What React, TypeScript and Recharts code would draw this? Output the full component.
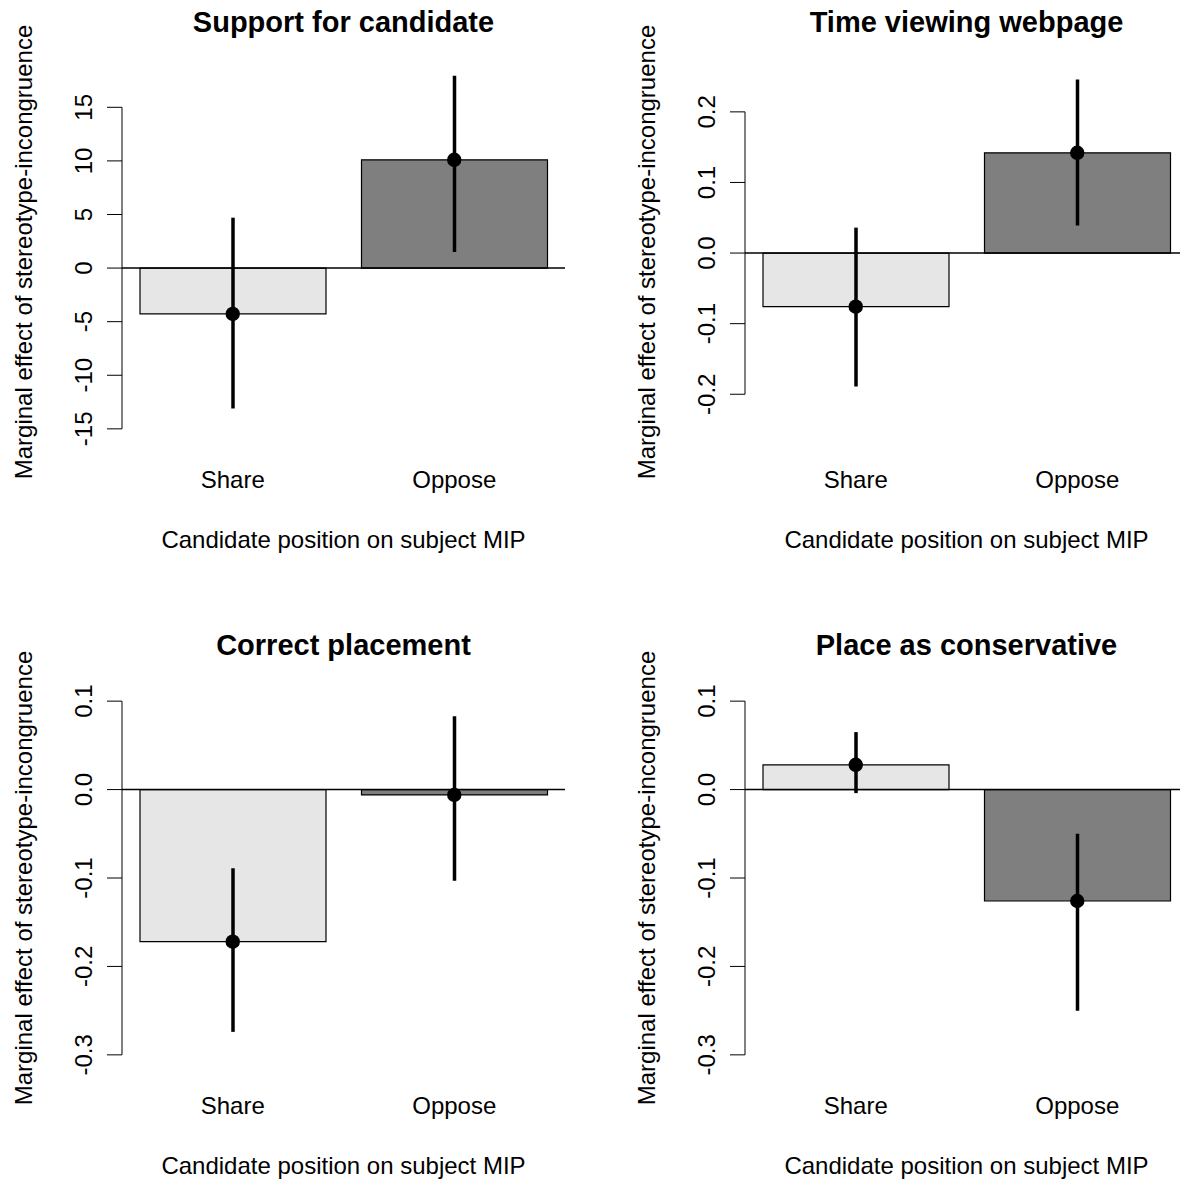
import {
  ComposedChart,
  Bar,
  Cell,
  ErrorBar,
  Scatter,
  XAxis,
  YAxis,
  ReferenceLine,
} from "recharts";

const CATEGORIAS = ["Share", "Oppose"];
const COLORES = ["#E6E6E6", "#7F7F7F"];

const TITULOS = [
  "Support for candidate",
  "Time viewing webpage",
  "Correct placement",
  "Place as conservative",
];

const Y_LABEL = "Marginal effect of stereotype-incongruence";
const X_LABEL = "Candidate position on subject MIP";

// estimates and 95% intervals, Share / Oppose
const SUPPORT_EST = [-4.27, 10.1];
const SUPPORT_LO = [-13.1, 1.5];
const SUPPORT_HI = [4.7, 17.95];

const TIME_EST = [-0.076, 0.142];
const TIME_LO = [-0.189, 0.039];
const TIME_HI = [0.036, 0.246];

const CORRECT_EST = [-0.172, -0.006];
const CORRECT_LO = [-0.274, -0.103];
const CORRECT_HI = [-0.089, 0.083];

const CONSERV_EST = [0.028, -0.126];
const CONSERV_LO = [-0.004, -0.25];
const CONSERV_HI = [0.065, -0.05];

// y ticks + limits
const SUPPORT_TICKS = [-15, -10, -5, 0, 5, 10, 15];
const TIME_TICKS = [-0.2, -0.1, 0, 0.1, 0.2];
const PLACE_TICKS = [-0.3, -0.2, -0.1, 0, 0.1];

const SUPPORT_YLIM = [-15, 18];
const TIME_YLIM = [-0.249, 0.252];
const PLACE_YLIM = [-0.3, 0.1];

/* layout */
const PANEL_W = 623;
const PANEL_H = 626;
const PLOT_LEFT = 122;
const PLOT_TOP = 61;
const PLOT_RIGHT_GAP = 58;
const XAXIS_H = 183;
const FONT = "'Liberation Sans', Arial, Helvetica, sans-serif";

function YTick({ x, y, payload, digits }: any) {
  return (
    <text
      x={x}
      y={y}
      transform={`rotate(-90, ${x}, ${y})`}
      textAnchor="middle"
      fontSize={24}
      fontFamily={FONT}
      fill="#000"
    >
      {Number(payload.value).toFixed(digits)}
    </text>
  );
}

function XTick({ x, y, payload }: any) {
  return (
    <text x={x} y={y + 44.5} textAnchor="middle" fontSize={24} fontFamily={FONT} fill="#000">
      {payload.value}
    </text>
  );
}

function YLabel({ viewBox }: any) {
  const x = viewBox.x + 31.5;
  const y = viewBox.y + viewBox.height / 2;
  return (
    <text
      x={x}
      y={y}
      transform={`rotate(-90, ${x}, ${y})`}
      textAnchor="middle"
      fontSize={24}
      fontFamily={FONT}
      fill="#000"
    >
      {Y_LABEL}
    </text>
  );
}

function XLabel({ viewBox }: any) {
  return (
    <text
      x={viewBox.x + viewBox.width / 2}
      y={viewBox.y + 104.6}
      textAnchor="middle"
      fontSize={24}
      fontFamily={FONT}
      fill="#000"
    >
      {X_LABEL}
    </text>
  );
}

function Punto({ cx, cy }: any) {
  return <circle cx={cx} cy={cy} r={7.2} fill="#000" />;
}

function Panel({ title, est, lo, hi, ylim, ticks, digits, left, top, titleY }: any) {
  const data = CATEGORIAS.map((cat, i) => ({
    cat,
    est: est[i],
    err: [est[i] - lo[i], hi[i] - est[i]],
  }));
  const ext = (ylim[1] - ylim[0]) * 0.04;
  const domain = [ylim[0] - ext, ylim[1] + ext];
  const plotW = PANEL_W - PLOT_LEFT - PLOT_RIGHT_GAP;

  return (
    <div style={{ position: "absolute", left, top, width: PANEL_W, height: PANEL_H }}>
      <ComposedChart
        width={PANEL_W}
        height={PANEL_H}
        data={data}
        margin={{ top: PLOT_TOP, right: PLOT_RIGHT_GAP, bottom: 0, left: 0 }}
      >
        <XAxis
          dataKey="cat"
          height={XAXIS_H}
          axisLine={false}
          tickLine={false}
          tickSize={0}
          tickMargin={0}
          tick={<XTick />}
          label={<XLabel />}
        />
        <XAxis xAxisId="edge" type="number" domain={[0, 1]} hide />
        <YAxis
          type="number"
          domain={domain}
          ticks={ticks}
          interval={0}
          width={PLOT_LEFT}
          axisLine={false}
          tickLine={{ stroke: "#000", strokeWidth: 1 }}
          tickSize={15}
          tickMargin={15}
          tick={<YTick digits={digits} />}
          label={<YLabel />}
        />
        <Bar dataKey="est" barSize={186} stroke="#000" strokeWidth={1.2} isAnimationActive={false}>
          {data.map((d, i) => (
            <Cell key={d.cat} fill={COLORES[i]} />
          ))}
          <ErrorBar dataKey="err" width={0} stroke="#000" strokeWidth={3.5} />
        </Bar>
        <ReferenceLine y={0} stroke="#000" strokeWidth={1.5} />
        <ReferenceLine
          xAxisId="edge"
          segment={[
            { x: 0, y: ticks[0] },
            { x: 0, y: ticks[ticks.length - 1] },
          ]}
          stroke="#000"
          strokeWidth={1}
        />
        <Scatter dataKey="est" shape={<Punto />} isAnimationActive={false} />
      </ComposedChart>
      <svg
        width={PANEL_W}
        height={PANEL_H}
        style={{ position: "absolute", left: 0, top: 0, pointerEvents: "none" }}
      >
        <text
          x={PLOT_LEFT + plotW / 2}
          y={titleY}
          textAnchor="middle"
          fontSize={29}
          fontWeight="bold"
          fontFamily={FONT}
          fill="#000"
        >
          {title}
        </text>
      </svg>
    </div>
  );
}

export default function App() {
  return (
    <div
      style={{
        position: "absolute",
        left: 0,
        top: 0,
        width: 1180,
        height: 1179,
        overflow: "hidden",
        background: "#fff",
      }}
    >
      <Panel
        title={TITULOS[0]}
        est={SUPPORT_EST}
        lo={SUPPORT_LO}
        hi={SUPPORT_HI}
        ylim={SUPPORT_YLIM}
        ticks={SUPPORT_TICKS}
        digits={0}
        left={0}
        top={0}
        titleY={31.5}
      />
      <Panel
        title={TITULOS[1]}
        est={TIME_EST}
        lo={TIME_LO}
        hi={TIME_HI}
        ylim={TIME_YLIM}
        ticks={TIME_TICKS}
        digits={1}
        left={PANEL_W}
        top={0}
        titleY={31.5}
      />
      <Panel
        title={TITULOS[2]}
        est={CORRECT_EST}
        lo={CORRECT_LO}
        hi={CORRECT_HI}
        ylim={PLACE_YLIM}
        ticks={PLACE_TICKS}
        digits={1}
        left={0}
        top={PANEL_H}
        titleY={29}
      />
      <Panel
        title={TITULOS[3]}
        est={CONSERV_EST}
        lo={CONSERV_LO}
        hi={CONSERV_HI}
        ylim={PLACE_YLIM}
        ticks={PLACE_TICKS}
        digits={1}
        left={PANEL_W}
        top={PANEL_H}
        titleY={29}
      />
    </div>
  );
}
